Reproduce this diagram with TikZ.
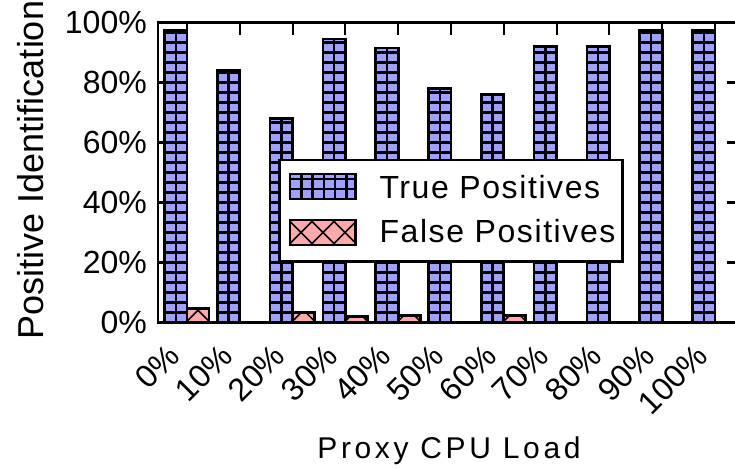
\documentclass[tikz,border=0pt]{standalone}
\usepackage{fontspec}
\setmainfont{Liberation Sans}
\newfontfamily\spacedfont[LetterSpace=5]{Liberation Sans}
\newfontfamily\widefont[LetterSpace=12]{Liberation Sans}
\definecolor{tpblue}{RGB}{160,160,255}
\definecolor{fppink}{RGB}{255,170,170}
\tikzset{
  barline/.style={line width=2.7pt},
  gridline/.style={line width=2.5pt},
  hatchline/.style={line width=1.5pt},
  ticklabel/.style={font=\fontsize{32}{32}\selectfont, inner sep=0pt},
  legendlabel/.style={font=\spacedfont\fontsize{32}{32}\selectfont, inner sep=0pt, anchor=base west},
}
% blue box with square grid: x, y, width, height
\newcommand{\tpbox}[4]{%
  \begin{scope}[shift={(#1,#2)}]
    \fill[tpblue] (0,0) rectangle (#3,#4);
    \begin{scope}
      \clip (0,0) rectangle (#3,#4);
      \draw[gridline, xstep=11.25pt, ystep=10pt] (0,0) grid (#3,#4);
    \end{scope}
    \draw[barline] (0,0) rectangle (#3,#4);
  \end{scope}}
% pink box with cross hatch: x, y, width, height
\newcommand{\fpbox}[4]{%
  \begin{scope}[shift={(#1,#2)}]
    \fill[fppink] (0,0) rectangle (#3,#4);
    \begin{scope}
      \clip (0,0) rectangle (#3,#4);
      \foreach \k in {-2,...,4}
        \draw[hatchline] (\k*22-1.5,0) -- ++(40,40) (\k*22+23.5,0) -- ++(-40,40);
    \end{scope}
    \draw[barline] (0,0) rectangle (#3,#4);
  \end{scope}}

\begin{document}
\begin{tikzpicture}[x=1pt, y=1pt]
\useasboundingbox (0,0) rectangle (735,470);
% Bars
\foreach \v [count=\i from 0] in {97.5,84,68,94.5,91.5,78,76,92,92,97.5,97.5}
  \tpbox{164.5+52.8*\i}{147.3}{22.5}{3.002*\v};
\foreach \i/\v in {0/4.7,2/3.5,3/2.0,4/2.5,6/2.5}
  \fpbox{187+52.8*\i}{147.3}{22}{3.002*\v};
% Frame and ticks
\draw[barline] (158,147.3) rectangle (740,447.5);
\foreach \p in {20,40,60,80} {
  \draw[barline] (158,147.3+3.002*\p) -- ++(13,0);
  \draw[barline] (740,147.3+3.002*\p) -- ++(-13,0);
}
\foreach \i in {0,...,10}
  \draw[line width=2pt] (187+52.8*\i,447.5) -- ++(0,-13);
% Tick labels
\foreach \p in {0,20,...,100}
  \node[ticklabel, anchor=base east] (ylab\p) at (147,136.3+3.002*\p) {\p\%};
\foreach \p [count=\i from 0] in {0,10,...,100}
  \node[ticklabel, anchor=base east, rotate=45] (xlab\p) at (181.5+52.8*\i,112) {\p\%};
% Axis titles
\node[font=\fontsize{36}{36}\selectfont, inner sep=0pt, anchor=base, rotate=90] (ytitle) at (43,300) {Positive Identification};
\node[font=\widefont\fontsize{30}{30}\selectfont, inner sep=0pt, anchor=base] (xtitle) at (449,11.7) {Proxy CPU Load};
% Legend
\draw[barline, fill=white] (279.3,208.3) rectangle (622.7,310);
\tpbox{290}{271}{65.7}{25}
\fpbox{290}{225}{65.7}{25}
\node[legendlabel] (tplabel) at (379.3,271.7) {True Positives};
\node[legendlabel] (fplabel) at (379.3,227.3) {False Positives};
\end{tikzpicture}
\end{document}
